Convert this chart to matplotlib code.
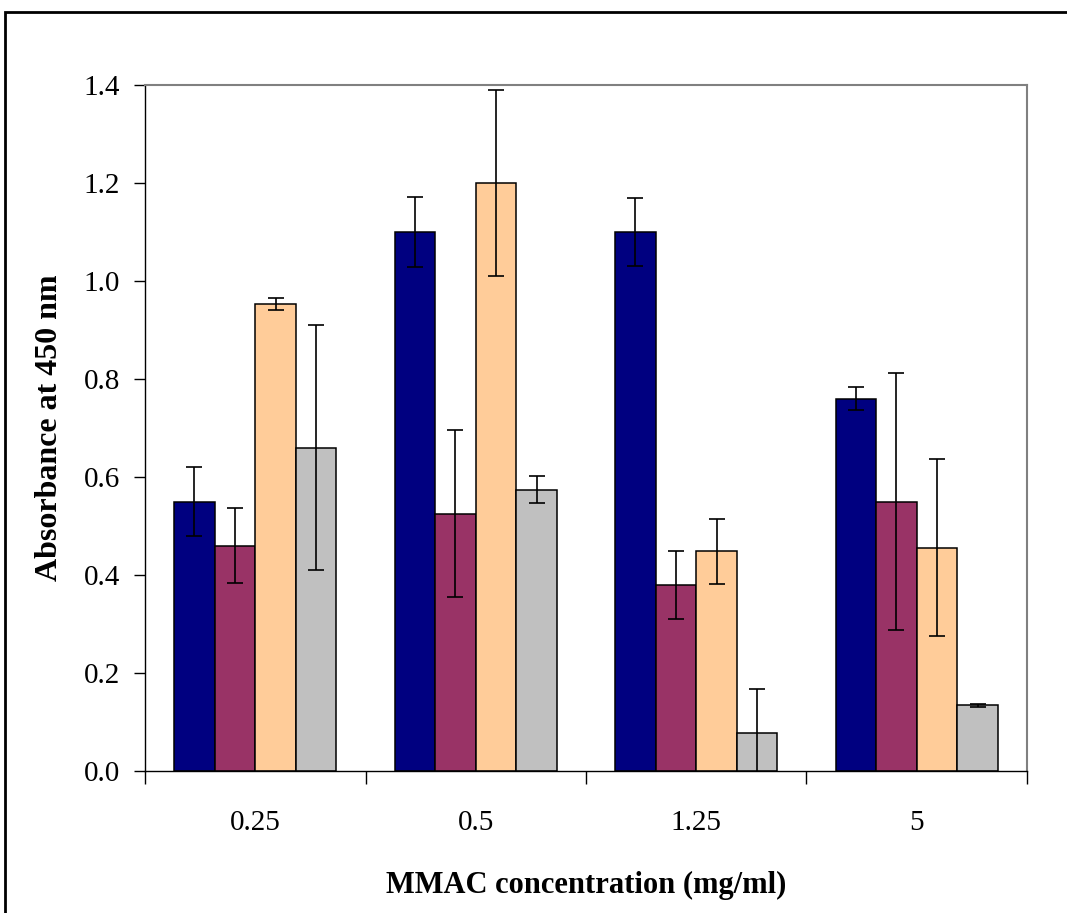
import matplotlib.pyplot as plt
import numpy as np
from matplotlib.patches import Rectangle

# concentrations de MMAC (mg/ml)
concentrations = ['0.25', '0.5', '1.25', '5']

# absorbance à 450 nm, une série par couleur
serie1 = [0.55, 1.10, 1.10, 0.76]
serie2 = [0.46, 0.525, 0.38, 0.55]
serie3 = [0.953, 1.20, 0.448, 0.456]
serie4 = [0.66, 0.574, 0.077, 0.134]

# écarts-types
err1 = [0.07, 0.072, 0.07, 0.023]
err2 = [0.076, 0.17, 0.07, 0.263]
err3 = [0.012, 0.19, 0.066, 0.18]
err4 = [0.25, 0.028, 0.09, 0.003]

series = [serie1, serie2, serie3, serie4]
erreurs = [err1, err2, err3, err4]
couleurs = ['#000080', '#993366', '#FFCC99', '#C0C0C0']

plt.rcParams['font.family'] = ['Liberation Serif', 'DejaVu Serif']

fig = plt.figure(figsize=(10.67, 9.13), dpi=100)
ax = fig.add_axes([0.1359, 0.1555, 0.8266, 0.7514])

x = np.arange(len(concentrations))
width = 0.184
for k, (vals, errs, col) in enumerate(zip(series, erreurs, couleurs)):
    pos = x + (k - 1.5) * width
    ax.bar(pos, vals, width, color=col, edgecolor='black', linewidth=1.1, zorder=2)
    ax.errorbar(pos, vals, yerr=errs, fmt='none', ecolor='black',
                elinewidth=1.2, capsize=6, capthick=1.2, zorder=3)

ax.set_xlim(-0.5, len(concentrations) - 0.5)
ax.set_ylim(0, 1.4)
ax.set_yticks(np.arange(0, 1.41, 0.2))
ax.set_yticklabels(['%.1f' % v for v in np.arange(0, 1.41, 0.2)], fontsize=21)
ax.set_xticks(x)
ax.set_xticklabels(concentrations, fontsize=21)
ax.set_xticks(np.arange(-0.5, len(concentrations)), minor=True)
ax.tick_params(axis='x', which='major', length=0, pad=28)
ax.tick_params(axis='x', which='minor', length=9, width=1, direction='out')
ax.tick_params(axis='y', length=8, width=1, direction='out', pad=10)

for s in ['top', 'right']:
    ax.spines[s].set_color('#808080')
    ax.spines[s].set_linewidth(1.5)
for s in ['left', 'bottom']:
    ax.spines[s].set_color('black')
    ax.spines[s].set_linewidth(1)

ax.set_xlabel('MMAC concentration (mg/ml)', fontsize=22, fontweight='bold', labelpad=25)
ax.set_ylabel('Absorbance at 450 nm', fontsize=23, fontweight='bold', labelpad=14)

# cadre autour du graphique
fig.patches.append(Rectangle((5 / 1067, -0.1), 1.2, (913 - 12) / 913 + 0.1,
                             transform=fig.transFigure, fill=False,
                             edgecolor='black', linewidth=2))

fig.savefig('out.png', dpi=100)
